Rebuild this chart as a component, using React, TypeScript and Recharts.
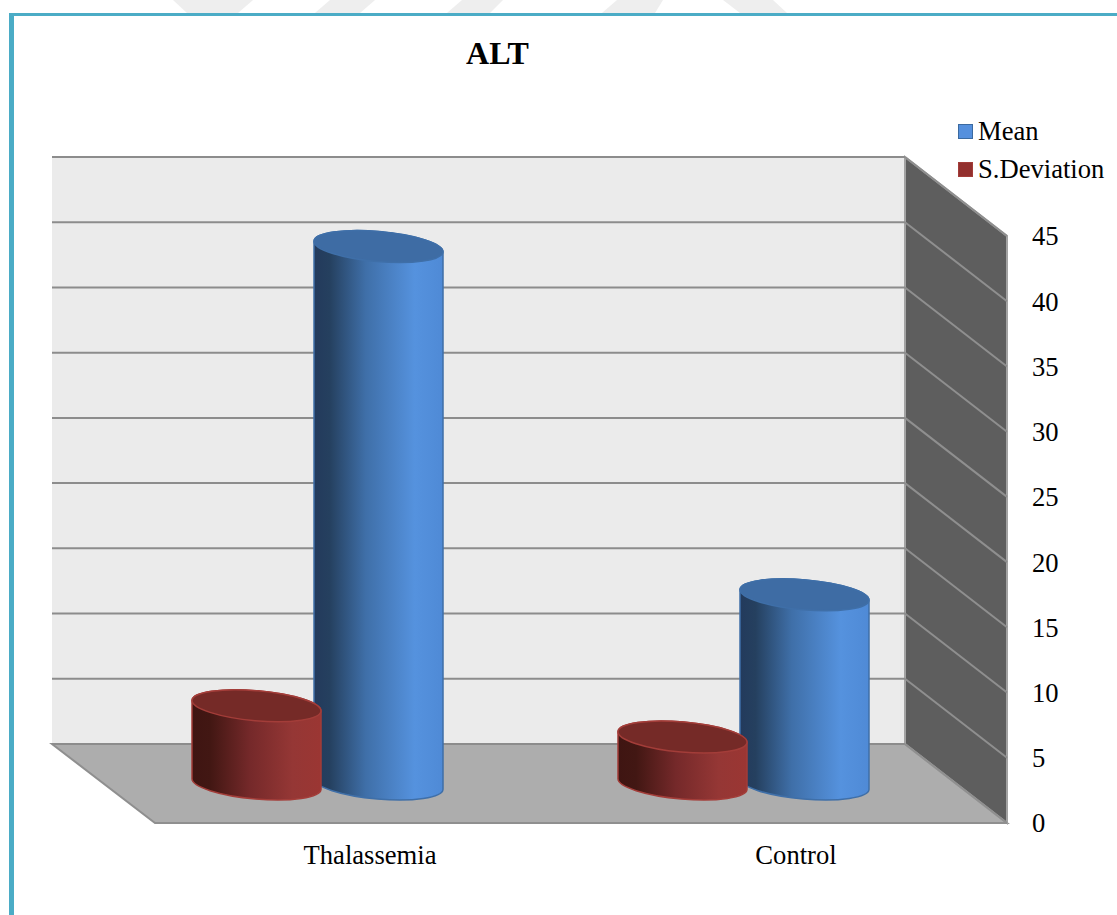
import { Bar, BarChart, CartesianGrid, Legend, XAxis, YAxis } from 'recharts';

// ALT levels per group
const groups = ['Thalassemia', 'Control'];
const meanValues = [41.2, 14.5];
const deviationValues = [6.0, 3.6];
const valueTicks = [0, 5, 10, 15, 20, 25, 30, 35, 40, 45];

const chartData = groups.map((group, i) => ({
  group,
  mean: meanValues[i],
  deviation: deviationValues[i],
}));

const WIDTH = 1117;
const HEIGHT = 915;
const FONT = '"Liberation Serif", serif';
const TEXT_SIZE = 26.6;

// front plane of the fake 3D box, and how far back the rear wall sits
const FRONT = { left: 155, right: 1007, top: 236, bottom: 823 };
const DEPTH_X = 102;
const DEPTH_Y = 79;

// cylinders stand halfway into the floor
const BAR_SIZE = 129;
const BAR_GAP = -7;
const MID_X = -51;
const MID_Y = -39;
const SLOT_SWAP = BAR_SIZE + BAR_GAP;
const TILT = 4.9;
const RX = 64.7;
const RY = 15;
const TILT_DY = 5.5;

function pts(list: number[][]) {
  return list.map((p) => p.join(',')).join(' ');
}

// Backdrop: page frame, faint stripes above it, walls and floor of the box
function Scenery() {
  const { left, right, top, bottom } = FRONT;
  const backLeft = left - DEPTH_X - 1;
  const backRight = right - DEPTH_X;
  const backTop = top - DEPTH_Y;
  const backBottom = bottom - DEPTH_Y;
  const stripes = [
    [[173, 0], [253, 0], [238, 13], [187, 13]],
    [[330, 0], [375, 0], [360, 13], [315, 13]],
    [[462, 0], [503, 0], [490, 13], [447, 13]],
    [[617, 0], [663, 0], [655, 13], [602, 13]],
    [[723, 0], [773, 0], [787, 13], [740, 13]],
  ];
  return (
    <svg width={WIDTH} height={HEIGHT} style={{ position: 'absolute', left: 0, top: 0 }}>
      {stripes.map((s, i) => (
        <polygon key={i} points={pts(s)} fill="#eeeeee" />
      ))}
      <rect x={9} y={13} width={WIDTH - 9} height={3} fill="#4bacc6" />
      <rect x={9} y={13} width={5} height={HEIGHT - 13} fill="#4bacc6" />

      <rect x={backLeft} y={backTop} width={backRight - backLeft} height={backBottom - backTop} fill="#ebebeb" />
      <polygon
        points={pts([[backLeft, backBottom], [backRight, backBottom], [right, bottom], [left, bottom]])}
        fill="#adadad"
        stroke="#8f8f8f"
        strokeWidth={2}
      />
      <polygon
        points={pts([[backRight, backTop], [right, top], [right, bottom], [backRight, backBottom]])}
        fill="#5e5e5e"
        stroke="#a3a3a3"
        strokeWidth={2}
      />
      <text x={497.5} y={64} textAnchor="middle" fontFamily={FONT} fontSize={32} fontWeight="bold" fill="#000">
        ALT
      </text>
    </svg>
  );
}

// Each value gridline runs along the rear wall and then down the side wall
function GridLine(props: any) {
  const { x1, x2, y1 } = props;
  const backY = y1 - DEPTH_Y;
  return (
    <g>
      <line x1={x1 - DEPTH_X - 1} x2={x2 - DEPTH_X} y1={backY} y2={backY} stroke="#8c8c8c" strokeWidth={2} />
      <line x1={x2 - DEPTH_X} x2={x2} y1={backY} y2={y1} stroke="#8f8f8f" strokeWidth={2} />
    </g>
  );
}

function cylinder(slotShift: number, bodyFill: string, capFill: string, edge: string) {
  return function Cylinder(props: any) {
    const { x, y, width, height } = props;
    const l = x + slotShift + MID_X;
    const r = l + width;
    const cx = (l + r) / 2;
    const topY = y + MID_Y;
    const baseY = y + height + MID_Y;
    const arc = `A${RX} ${RY} ${TILT} 0 0`;
    const body = [
      `M${l} ${topY - TILT_DY}`,
      `L${l} ${baseY - TILT_DY}`,
      `${arc} ${r} ${baseY + TILT_DY}`,
      `L${r} ${topY + TILT_DY}`,
      `${arc} ${l} ${topY - TILT_DY}`,
      'Z',
    ].join(' ');
    return (
      <g>
        <path d={body} fill={bodyFill} stroke={edge} strokeWidth={1.5} />
        <ellipse
          cx={cx}
          cy={topY}
          rx={RX}
          ry={RY}
          transform={`rotate(${TILT} ${cx} ${topY})`}
          fill={capFill}
          stroke={edge}
          strokeWidth={1.5}
        />
      </g>
    );
  };
}

function LegendBox({ payload }: any) {
  return (
    <div style={{ fontFamily: FONT, fontSize: TEXT_SIZE, color: '#000', lineHeight: '38px' }}>
      {(payload || []).map((entry: any) => (
        <div key={entry.value} style={{ display: 'flex', alignItems: 'center', whiteSpace: 'nowrap' }}>
          <span
            style={{
              width: 13,
              height: 13,
              marginRight: 5,
              background: entry.color,
              border: `1.5px solid ${entry.value === 'Mean' ? '#3b6aa0' : '#a33d39'}`,
            }}
          />
          {entry.value}
        </div>
      ))}
    </div>
  );
}

export default function App() {
  return (
    <div style={{ position: 'absolute', left: 0, top: 0, width: WIDTH, height: HEIGHT, background: '#fff' }}>
      <Scenery />
      <div style={{ position: 'absolute', left: 0, top: 0 }}>
        <BarChart
          width={WIDTH}
          height={HEIGHT}
          data={chartData}
          barSize={BAR_SIZE}
          barGap={BAR_GAP}
          margin={{ top: FRONT.top, right: 0, bottom: 0, left: FRONT.left }}
        >
          <defs>
            <linearGradient id="blueBody" x1="0" y1="0" x2="1" y2="0">
              <stop offset="0%" stopColor="#233a5c" />
              <stop offset="12%" stopColor="#25405f" />
              <stop offset="40%" stopColor="#3f6fa8" />
              <stop offset="78%" stopColor="#5592de" />
              <stop offset="100%" stopColor="#4f8ad6" />
            </linearGradient>
            <linearGradient id="redBody" x1="0" y1="0" x2="1" y2="0">
              <stop offset="0%" stopColor="#3f1512" />
              <stop offset="14%" stopColor="#421713" />
              <stop offset="45%" stopColor="#75292a" />
              <stop offset="78%" stopColor="#953735" />
              <stop offset="100%" stopColor="#9b3633" />
            </linearGradient>
          </defs>
          <CartesianGrid vertical={false} horizontal={(props: any) => <GridLine key={props.key} {...props} />} />
          <XAxis
            dataKey="group"
            height={HEIGHT - FRONT.bottom}
            tickLine={false}
            tickSize={0}
            tickMargin={22}
            axisLine={{ stroke: '#8f8f8f', strokeWidth: 2 }}
            tick={{ fontFamily: FONT, fontSize: TEXT_SIZE, fill: '#000', dx: 2 }}
          />
          <YAxis
            orientation="right"
            domain={[0, 45]}
            ticks={valueTicks}
            width={WIDTH - FRONT.right}
            tickLine={false}
            axisLine={false}
            tickSize={0}
            tickMargin={25}
            tick={{ fontFamily: FONT, fontSize: TEXT_SIZE, fill: '#000', textAnchor: 'start' }}
          />
          <Legend
            layout="vertical"
            align="center"
            verticalAlign="middle"
            content={<LegendBox />}
            wrapperStyle={{ left: 958, top: 112, width: 159, height: 80 }}
          />
          {/* declared Mean first so the legend order holds; the shapes swap slots so red sits on the left, in front */}
          <Bar
            dataKey="mean"
            name="Mean"
            fill="#5590dd"
            isAnimationActive={false}
            shape={cylinder(SLOT_SWAP, 'url(#blueBody)', '#3e6ca4', '#3f6fa8')}
          />
          <Bar
            dataKey="deviation"
            name="S.Deviation"
            fill="#93302e"
            isAnimationActive={false}
            shape={cylinder(-SLOT_SWAP, 'url(#redBody)', '#752a27', '#a33d39')}
          />
        </BarChart>
      </div>
    </div>
  );
}
